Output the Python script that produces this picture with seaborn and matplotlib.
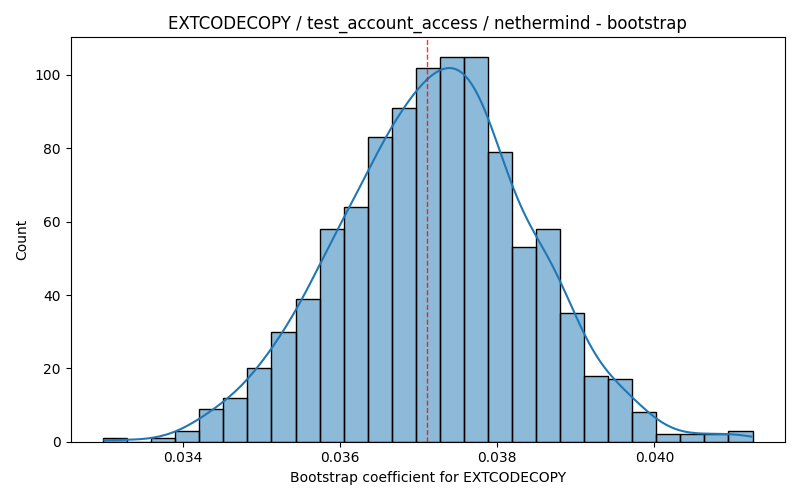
import numpy as np
import pandas as pd
import matplotlib
matplotlib.use("Agg")
import matplotlib.pyplot as plt
import seaborn as sns

# histogram: 27 equal bins, 1000 bootstrap draws
bin_lo = 0.03298
bin_hi = 0.04125
counts = [1, 0, 1, 3, 9, 12, 20, 30, 39, 58, 64, 83, 91, 102, 105, 105,
          79, 53, 58, 35, 18, 17, 8, 2, 2, 2, 3]
mean_coef = 0.037105

edges = np.linspace(bin_lo, bin_hi, len(counts) + 1)
centers = (edges[:-1] + edges[1:]) / 2
# one row per bootstrap draw, placed at its bin centre
df = pd.DataFrame({"coef": np.repeat(centers, counts)})

fig, ax = plt.subplots(figsize=(8, 5), dpi=100)
sns.histplot(data=df, x="coef", bins=len(counts), binrange=(bin_lo, bin_hi),
             kde=True, kde_kws={"cut": 0.45}, ax=ax, edgecolor="black")
ax.axvline(mean_coef, color="red", linestyle="--", linewidth=1, alpha=0.8)
ax.set_xlabel("Bootstrap coefficient for EXTCODECOPY")
ax.set_ylabel("Count")
ax.set_title("EXTCODECOPY / test_account_access / nethermind - bootstrap")
plt.tight_layout()
plt.savefig("out.png")
